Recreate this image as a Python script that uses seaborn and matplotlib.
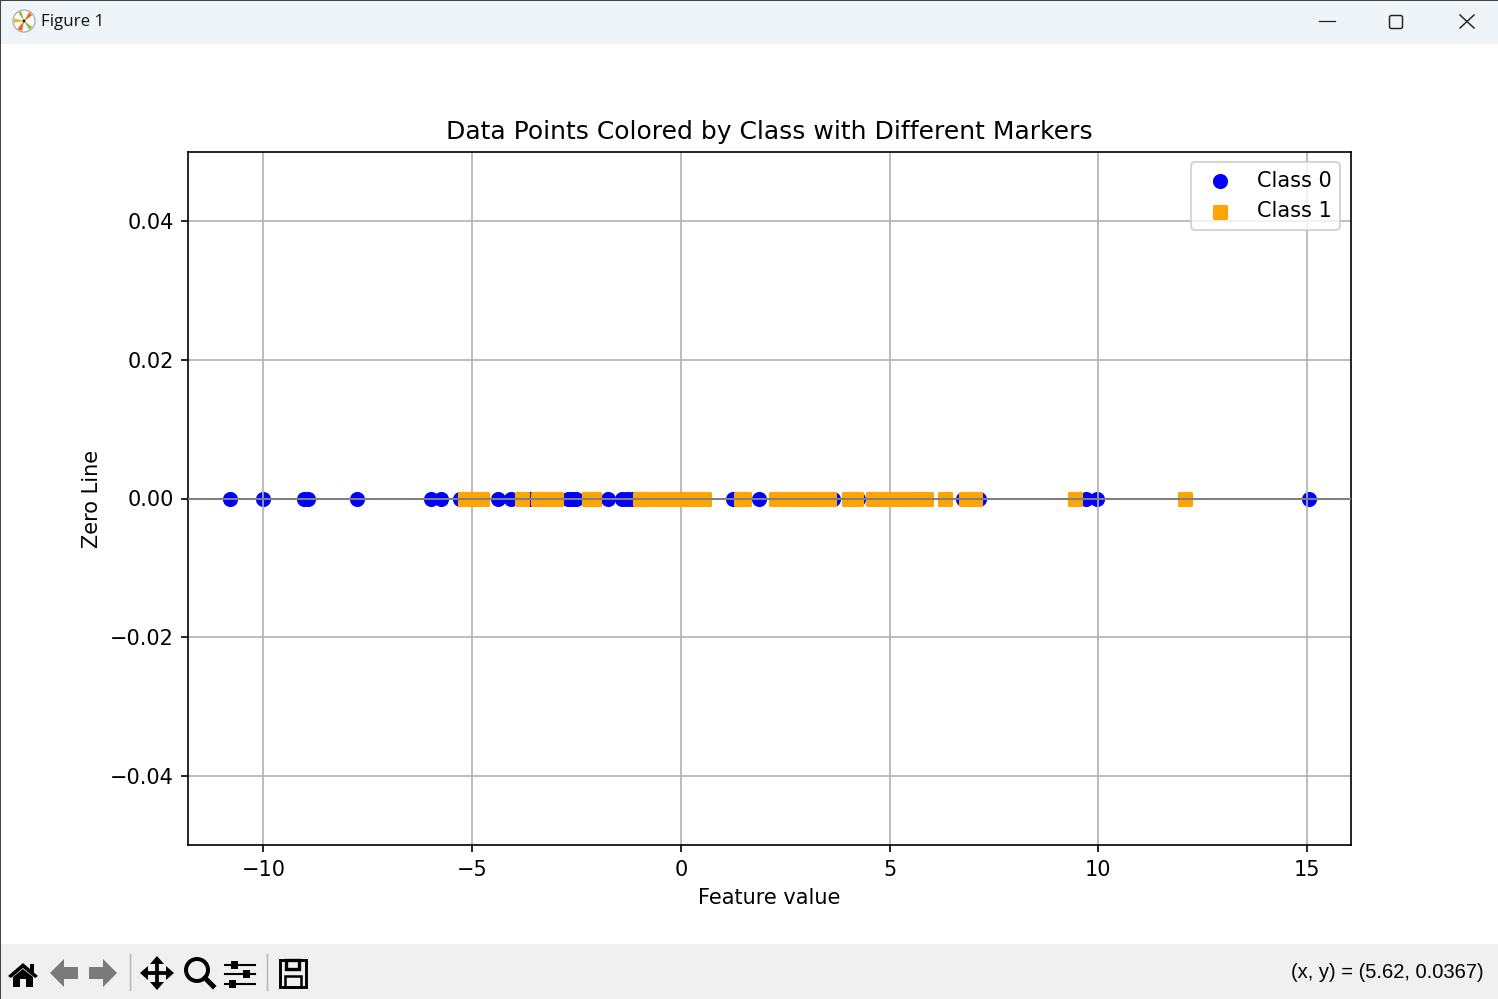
import numpy as np
import pandas as pd
import seaborn as sns
import matplotlib
matplotlib.use("Agg")
import matplotlib.pyplot as plt
from matplotlib.patches import Rectangle, Circle, Polygon, FancyBboxPatch, Wedge

# values
class0_x = [-10.79, -10.0, -9.03, -8.93, -7.75, -5.99, -5.75, -5.3, -5.1, -4.37, -4.07, -3.6,
            -2.7, -2.6, -2.5, -2.2, -1.75, -1.42, -1.3, -1.18, -0.98, -0.9, -0.1, 0.2, 0.4,
            1.25, 1.45, 1.87, 2.85, 3.0, 3.2, 3.4, 3.65, 4.15, 4.25, 5.0, 5.2, 6.75, 6.95, 7.15,
            9.7, 9.98, 15.05]
class1_x = [-5.17, -5.0, -4.76, -3.81, -3.42, -3.18, -2.99, -2.2, -2.08, -0.98, -0.96,
            -0.62, -0.38, -0.14, 0.1, 0.34, 0.55, 1.44, 1.51, 2.29, 2.54, 2.78, 3.02, 3.26, 3.55,
            4.02, 4.19, 4.6, 4.84, 5.08, 5.32, 5.56, 5.87, 6.32, 6.84, 7.05, 9.45, 12.07]
class_labels = ["Class 0", "Class 1"]
x_ticks = [-10, -5, 0, 5, 10, 15]
y_ticks = [-0.04, -0.02, 0.0, 0.02, 0.04]

df0 = pd.DataFrame({"x": class0_x, "y": np.zeros(len(class0_x))})
df1 = pd.DataFrame({"x": class1_x, "y": np.zeros(len(class1_x))})

W, H = 1498, 999
fig = plt.figure(figsize=(W / 150, H / 150), dpi=150)

# window chrome around the canvas, in pixels
chrome = fig.add_axes([0, 0, 1, 1], zorder=5)
chrome.set_xlim(0, W)
chrome.set_ylim(H, 0)
chrome.axis("off")
chrome.add_patch(Rectangle((0, 0), W, 44, color="#eff4f9", lw=0))
chrome.add_patch(Rectangle((0, 944), W, 55, color="#f0f0f0", lw=0))
chrome.plot([0.3, 0.3], [0, H], color="#444444", lw=0.5)
chrome.plot([0, W], [0.3, 0.3], color="#444444", lw=0.5)
chrome.text(41, 22, "Figure 1", fontsize=8.1, family="Open Sans", va="center", color="#111111")
chrome.text(1484, 973, "(x, y) = (5.62, 0.0367)", fontsize=9.7, family="Liberation Sans",
            va="center", ha="right", color="black")

# logo
chrome.add_patch(Circle((24, 21), 11, fc="white", ec="#aaaaaa", lw=0.6))
for a1, a2, col in [(100, 130, "#ee6a1f"), (170, 195, "#f5b21a"), (300, 325, "#ee6a1f"),
                    (235, 255, "#88c04a"), (35, 60, "#88c04a")]:
    chrome.add_patch(Wedge((24, 21), 10, a1, a2, color=col, lw=0))
chrome.add_patch(Circle((24, 21), 1.5, color="#222222", lw=0))

# window buttons
chrome.plot([1319, 1335], [21, 21], color="#222222", lw=0.6)
chrome.add_patch(FancyBboxPatch((1389.5, 15.5), 13, 13, boxstyle="round,pad=0,rounding_size=2",
                                fc="none", ec="#222222", lw=0.7))
chrome.plot([1460, 1474], [15, 28], color="#222222", lw=0.7)
chrome.plot([1460, 1474], [28, 15], color="#222222", lw=0.7)

# toolbar icons
chrome.add_patch(Polygon([(8, 976), (23, 963), (38, 976), (35, 978), (23, 968), (11, 978)], color="black", lw=0))
chrome.add_patch(Polygon([(13, 977), (23, 969), (33, 977), (33, 987), (26, 987), (26, 979),
                          (20, 979), (20, 987), (13, 987)], color="black", lw=0))
chrome.add_patch(Rectangle((30, 964), 4, 8, color="black", lw=0))
chrome.add_patch(Polygon([(50, 973), (64, 959), (64, 967), (78, 967), (78, 979), (64, 979), (64, 987)],
                         color="#7a7a7a", lw=0))
chrome.add_patch(Polygon([(117, 973), (103, 959), (103, 967), (89, 967), (89, 979), (103, 979), (103, 987)],
                         color="#7a7a7a", lw=0))
chrome.plot([129.5, 129.5], [954, 990], color="#b5b5b5", lw=0.7)
chrome.plot([266.5, 266.5], [954, 990], color="#b5b5b5", lw=0.7)
chrome.plot([145, 169], [973, 973], color="black", lw=1.8)
chrome.plot([157, 157], [961, 985], color="black", lw=1.8)
chrome.add_patch(Polygon([(140, 973), (148, 966), (148, 980)], color="black", lw=0))
chrome.add_patch(Polygon([(174, 973), (166, 966), (166, 980)], color="black", lw=0))
chrome.add_patch(Polygon([(157, 956), (150, 964), (164, 964)], color="black", lw=0))
chrome.add_patch(Polygon([(157, 990), (150, 982), (164, 982)], color="black", lw=0))
chrome.add_patch(Circle((197, 970), 11, fc="none", ec="black", lw=1.9))
chrome.plot([205, 213], [978, 986], color="black", lw=2.4)
for y_s, x_k in [(965, 234), (974, 246), (984, 232)]:
    chrome.plot([225, 255], [y_s, y_s], color="black", lw=1.0)
    chrome.add_patch(Rectangle((x_k - 3, y_s - 4), 7, 8, color="black", lw=0))
chrome.add_patch(Rectangle((280, 960), 26, 27, fc="none", ec="black", lw=1.4))
chrome.add_patch(Rectangle((286, 960), 13, 9, fc="none", ec="black", lw=1.6))
chrome.add_patch(Rectangle((285, 976), 16, 11, fc="none", ec="black", lw=1.2))

# the chart itself, placed as in the 10x6 inch canvas
left, right, top, bottom = 188.4, 1350.8, 152, 845
ax = fig.add_axes([left / W, 1 - bottom / H, (right - left) / W, (bottom - top) / H])
sns.scatterplot(data=df0, x="x", y="y", color="blue", marker="o", s=33, edgecolor="blue",
                linewidth=1.5, label=class_labels[0], ax=ax, zorder=1)
sns.scatterplot(data=df1, x="x", y="y", color="orange", marker="s", s=30, edgecolor="orange",
                linewidth=1.5, label=class_labels[1], ax=ax, zorder=2)
ax.axhline(0, color="gray", linewidth=1, zorder=3)
ax.set_xlim(-11.797, 16.05)
ax.set_ylim(-0.05, 0.05)
ax.set_xticks(x_ticks)
ax.set_yticks(y_ticks)
ax.grid(True)
ax.set_title("Data Points Colored by Class with Different Markers")
ax.set_xlabel("Feature value")
ax.set_ylabel("Zero Line")
ax.legend(loc="upper right")

fig.savefig("out.png", dpi=150)
